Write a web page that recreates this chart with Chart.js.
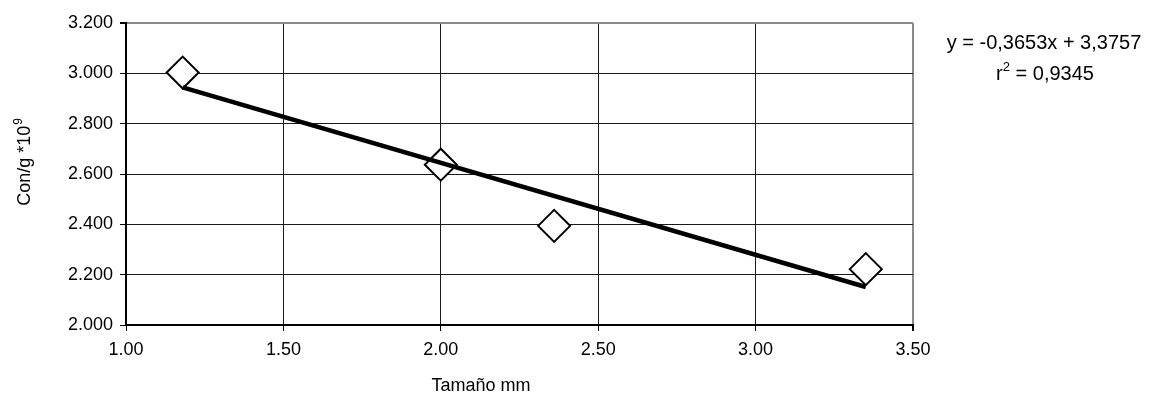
<!DOCTYPE html>
<html><head><meta charset="utf-8">
<script src="https://cdn.jsdelivr.net/npm/chart.js@4/dist/chart.umd.min.js"></script>
<style>html,body{margin:0;padding:0;background:#fff;}#wrap{width:1152px;height:397px;}</style>
</head><body><div id="wrap"><canvas id="c" width="1152" height="397"></canvas></div>
<script>
// ---- data ----
const sizeMm = [1.18, 2.00, 2.36, 3.35];
const conG = [3.003, 2.637, 2.394, 2.222];
const trendX = [1.18, 3.35];
const trendY = [2.944, 2.151];
const xMin = 1.0, xMax = 3.5, xStep = 0.5;
const yMin = 2.0, yMax = 3.2, yStep = 0.2;
const xTitle = 'Tamaño mm';
const yTitle = 'Con/g *10';
const yTitleSup = '9';
const eqLine = 'y = -0,3653x + 3,3757';
const r2Base = 'r';
const r2Sup = '2';
const r2Rest = ' = 0,9345';

const FONT = '"Liberation Sans", Arial, sans-serif';

const textPlugin = {
  id: 'textPlugin',
  afterDraw(chart) {
    const ctx = chart.ctx;
    ctx.save();
    ctx.fillStyle = '#000';
    // x title
    ctx.font = '18px ' + FONT;
    ctx.textAlign = 'center';
    ctx.textBaseline = 'middle';
    ctx.fillText(xTitle, 481, 386);
    // y title (rotated) with superscript
    ctx.save();
    ctx.translate(24, 162);
    ctx.rotate(-Math.PI / 2);
    ctx.font = '18px ' + FONT;
    const w1 = ctx.measureText(yTitle).width;
    ctx.font = '12px ' + FONT;
    const w2 = ctx.measureText(yTitleSup).width;
    const tot = w1 + w2 + 1;
    ctx.textAlign = 'left';
    ctx.textBaseline = 'alphabetic';
    ctx.font = '18px ' + FONT;
    ctx.fillText(yTitle, -tot / 2, 6);
    ctx.font = '12px ' + FONT;
    ctx.fillText(yTitleSup, -tot / 2 + w1 + 1, -2);
    ctx.restore();
    // equation
    ctx.font = '20px ' + FONT;
    ctx.textAlign = 'center';
    ctx.textBaseline = 'alphabetic';
    ctx.fillText(eqLine, 1044, 49);
    // r^2 line
    ctx.font = '20px ' + FONT;
    const a = ctx.measureText(r2Base).width;
    const c = ctx.measureText(r2Rest).width;
    ctx.font = '13px ' + FONT;
    const b = ctx.measureText(r2Sup).width;
    const total = a + b + c;
    let x0 = 1045 - total / 2;
    ctx.textAlign = 'left';
    ctx.font = '20px ' + FONT;
    ctx.fillText(r2Base, x0, 80);
    ctx.font = '13px ' + FONT;
    ctx.fillText(r2Sup, x0 + a, 71);
    ctx.font = '20px ' + FONT;
    ctx.fillText(r2Rest, x0 + a + b, 80);
    ctx.restore();
  }
};

const pts = sizeMm.map((x, i) => ({x: x, y: conG[i]}));
const trend = trendX.map((x, i) => ({x: x, y: trendY[i]}));

new Chart(document.getElementById('c'), {
  type: 'scatter',
  data: {
    datasets: [
      {
        label: 'Tendencia',
        data: trend,
        showLine: true,
        borderColor: '#000',
        borderWidth: 4.5,
        pointRadius: 0,
        pointHoverRadius: 0,
        fill: false,
        order: 0
      },
      {
        label: 'Con/g',
        data: pts,
        pointStyle: 'rectRot',
        pointRadius: 16,
        pointHoverRadius: 16,
        pointBorderWidth: 2,
        backgroundColor: '#fff',
        borderColor: '#000',
        order: 1
      }
    ]
  },
  options: {
    responsive: false,
    animation: false,
    devicePixelRatio: 1,
    layout: {padding: {left: 0, right: 239, top: 23, bottom: 0}},
    plugins: {legend: {display: false}, tooltip: {enabled: false}},
    scales: {
      x: {
        type: 'linear',
        min: xMin, max: xMax,
        ticks: {stepSize: xStep, color: '#000', font: {family: FONT, size: 18}, padding: 8,
          callback: v => Number(v).toFixed(2)},
        grid: {color: c => c.index === 5 ? '#8a8a8a' : '#1a1a1a', lineWidth: c => c.index === 5 ? 2 : 1,
          tickColor: '#000', tickLength: 6},
        border: {color: '#000', width: 2},
        afterFit: s => { s.height = 72; }
      },
      y: {
        type: 'linear',
        min: yMin, max: yMax,
        ticks: {stepSize: yStep, color: '#000', font: {family: FONT, size: 18}, padding: 7,
          callback: v => Number(v).toFixed(3)},
        grid: {color: c => c.index === 6 ? '#8a8a8a' : '#1a1a1a', lineWidth: c => c.index === 6 ? 2 : 1,
          tickColor: '#000', tickLength: 6},
        border: {color: '#000', width: 2},
        afterFit: s => { s.width = 126; }
      }
    }
  },
  plugins: [textPlugin]
});
</script></body></html>
